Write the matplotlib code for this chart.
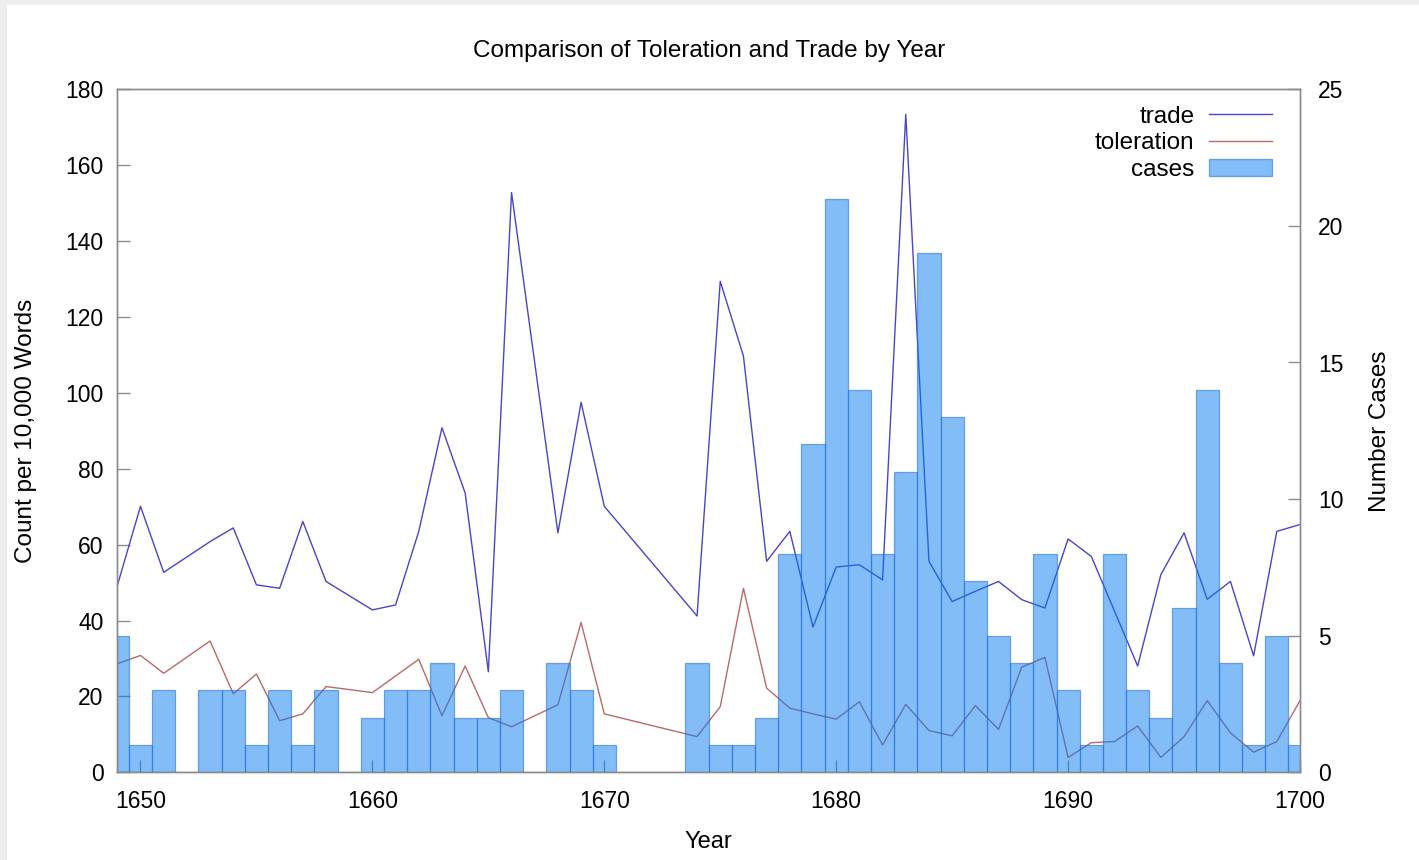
import numpy as np
import matplotlib
matplotlib.use("Agg")
import matplotlib.pyplot as plt
from matplotlib.patches import Rectangle

plt.rcParams['font.family'] = ['Liberation Sans', 'DejaVu Sans']

# cases per year (bars, right axis)
case_years = list(range(1649, 1701))
cases = [5, 1, 3, 0, 3, 3, 1, 3, 1, 3, 0, 2, 3, 3, 4, 2, 2, 3, 0, 4,
         3, 1, 0, 0, 0, 4, 1, 1, 2, 8, 12, 21, 14, 8, 11, 19, 13, 7, 5, 4,
         8, 3, 1, 8, 3, 2, 6, 14, 4, 1, 5, 1]

# word counts (lines, left axis) - years with no texts are missing
line_years = [1649, 1650, 1651, 1653, 1654, 1655, 1656, 1657, 1658, 1660,
              1661, 1662, 1663, 1664, 1665, 1666, 1668, 1669, 1670, 1674,
              1675, 1676, 1677, 1678, 1679, 1680, 1681, 1682, 1683, 1684,
              1685, 1686, 1687, 1688, 1689, 1690, 1691, 1692, 1693, 1694,
              1695, 1696, 1697, 1698, 1699, 1700]
trade = [49.2, 70.1, 52.7, 60.8, 64.4, 49.4, 48.5, 66.1, 50.3, 42.8,
         44.1, 63.5, 90.8, 73.6, 26.5, 152.8, 63.1, 97.5, 70.1, 41.2,
         129.4, 109.7, 55.6, 63.5, 38.3, 54.1, 54.7, 50.7, 173.4, 55.6,
         45.0, 47.7, 50.3, 45.5, 43.3, 61.5, 56.9, 42.5, 28.0, 52.1,
         63.1, 45.6, 50.3, 30.7, 63.5, 65.3]
toleration = [28.6, 30.8, 26.1, 34.6, 20.7, 25.9, 13.6, 15.4, 22.6, 21.0,
              25.4, 29.8, 14.9, 28.0, 14.4, 12.0, 17.8, 39.5, 15.4, 9.4,
              17.3, 48.5, 22.2, 16.9, 15.4, 14.0, 18.6, 7.2, 17.9, 11.0,
              9.6, 17.6, 11.3, 27.7, 30.3, 3.9, 7.8, 8.1, 12.2, 3.9,
              9.4, 18.9, 10.4, 5.3, 8.1, 18.9]

fig = plt.figure(figsize=(14.19, 8.6), dpi=100, facecolor='#eeeeee')
fig.patches.append(Rectangle((7 / 1419, 0), 1, 1 - 5 / 860,
                             transform=fig.transFigure, facecolor='white',
                             edgecolor='none', zorder=-10))
ax = fig.add_axes([117.3 / 1419, 1 - 772.3 / 860,
                   (1300 - 117.3) / 1419, (772.3 - 89.3) / 860])
ax.set_facecolor('none')
ax2 = ax.twinx()

l1, = ax.plot(line_years, trade, color='#4646c8', lw=1.0, label='trade')
l2, = ax.plot(line_years, toleration, color='#b86a6a', lw=1.0, label='toleration')
bars = ax2.bar(case_years, cases, width=1.0, align='center',
               facecolor=(0.03, 0.49, 0.95, 0.5),
               edgecolor=(0.15, 0.45, 0.85, 0.6), linewidth=0.9, label='cases')

ax.set_xlim(1649, 1700)
ax.set_ylim(0, 180)
ax2.set_ylim(0, 25)
ax.set_xticks(range(1650, 1701, 10))
ax.set_yticks(range(0, 181, 20))
ax2.set_yticks(range(0, 26, 5))

for a in (ax, ax2):
    for s in a.spines.values():
        s.set_color('#8c8c8c')
        s.set_linewidth(1.0)
ax.tick_params(axis='both', direction='in', length=9, width=1, color='#8c8c8c',
               labelsize=16.5)
ax.tick_params(axis='y', pad=10)
ax.tick_params(axis='x', pad=13)
ax2.tick_params(axis='y', direction='in', length=9, width=1, color='#8c8c8c',
                labelsize=16.5, pad=13)

ax.set_title('Comparison of Toleration and Trade by Year', fontsize=17.5, pad=23)
ax.set_xlabel('Year', fontsize=17, labelpad=13)
ax.set_ylabel('Count per 10,000 Words', fontsize=17.5, labelpad=20)
ax2.set_ylabel('Number Cases', fontsize=17.5, labelpad=18)

ax2.legend([l1, l2, bars], ['trade', 'toleration', 'cases'], loc='upper right',
           frameon=False, markerfirst=False, fontsize=17.5, handlelength=2.6,
           handletextpad=0.6, labelspacing=0.2, borderaxespad=0.55,
           bbox_to_anchor=(0.996, 1.01))

fig.savefig('out.png', dpi=100, facecolor=fig.get_facecolor())
